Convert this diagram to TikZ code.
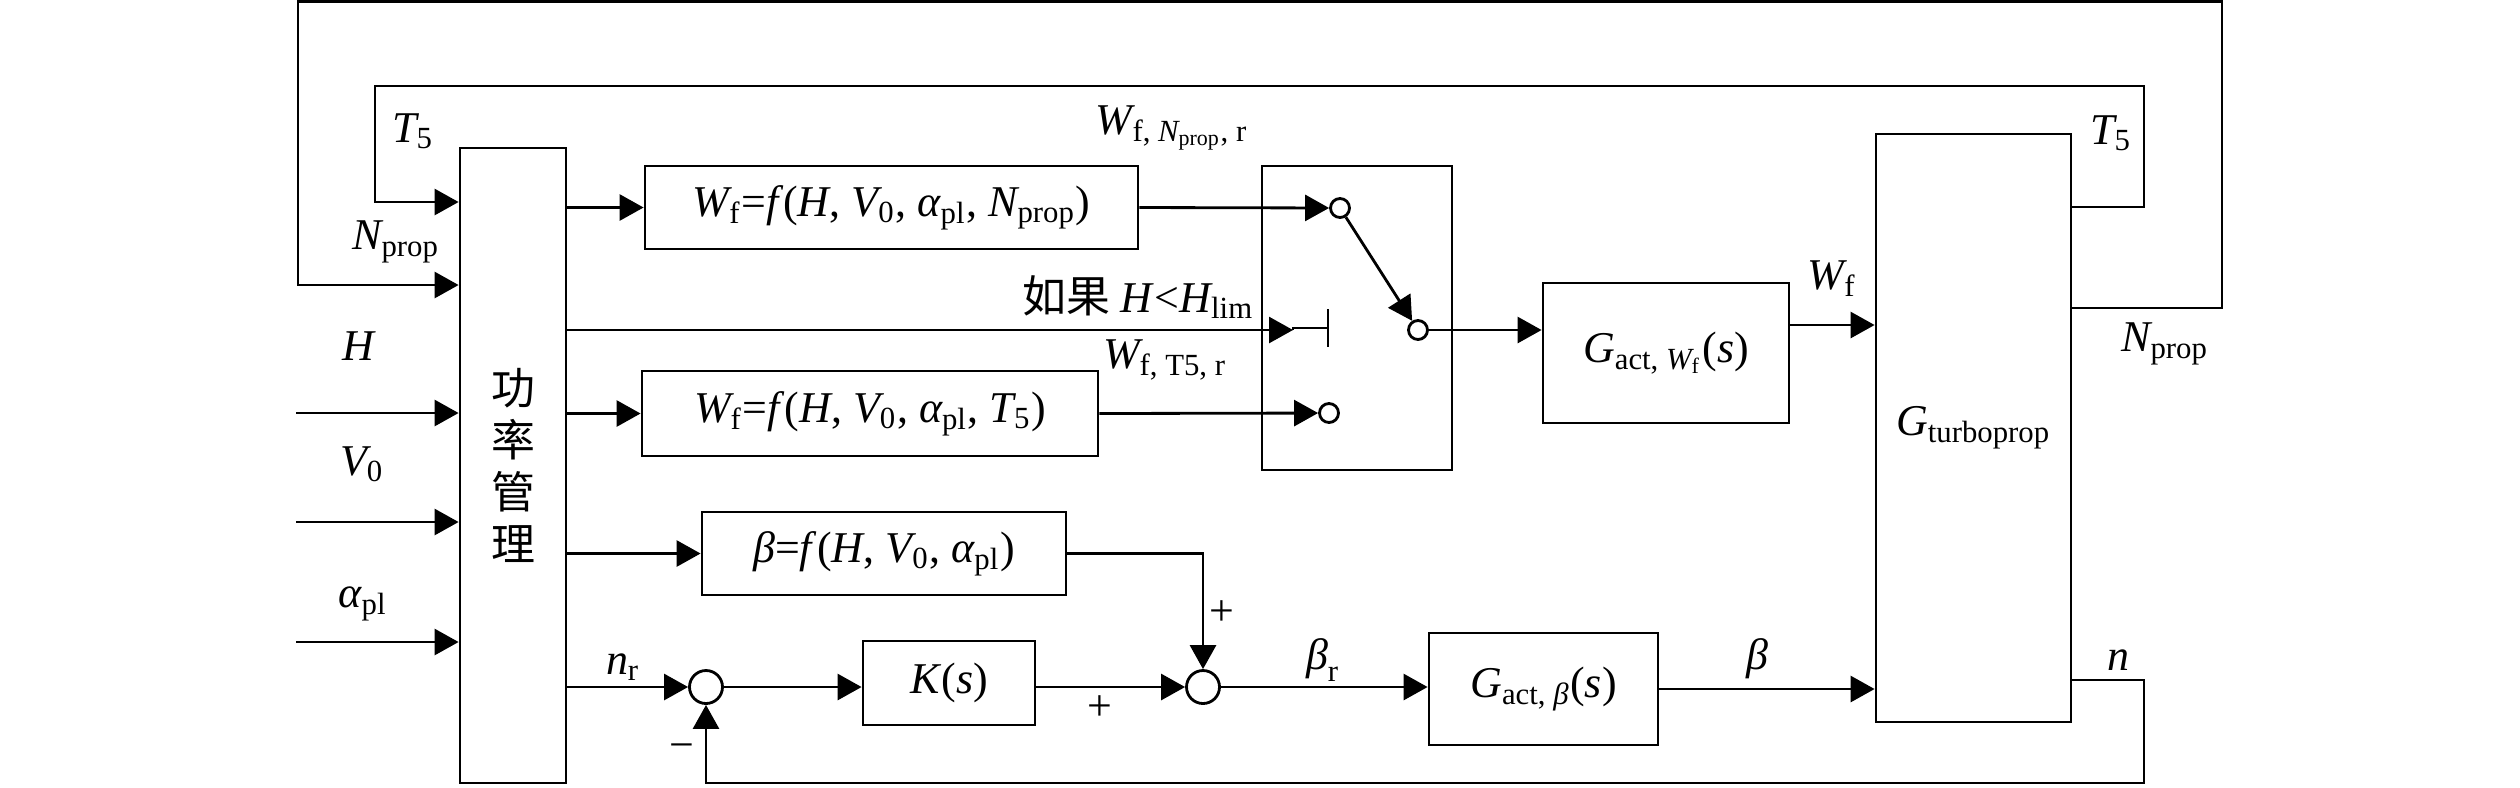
\documentclass[tikz,border=0pt]{standalone}
\usepackage{amsmath}
\usepackage{fontspec}
\setmainfont{Liberation Serif}
\newfontfamily\cjk{Noto Sans CJK SC}
\usetikzlibrary{arrows.meta,positioning,calc}
\newcommand{\sv}[2]{$\textit{#1}_{\text{#2}}$}

\begin{document}
\begin{tikzpicture}[
  font=\fontsize{12.5}{15}\selectfont,
  line width=0.8pt,
  blk/.style={draw,inner sep=0pt},
  sum/.style={draw,circle,minimum size=0.33cm,inner sep=0pt},
  pin/.style={draw,circle,minimum size=0.19cm,inner sep=0pt},
  arr/.style={-{Triangle[length=0.24cm,width=0.26cm]}},
  lbl/.style={inner sep=1pt},
]
  \useasboundingbox (0,0) rectangle (25.2,-7.87);

  % blocks
  \node[blk,minimum width=1.06cm,minimum height=6.35cm,align=center,
    font=\cjk\fontsize{12.5}{14.75}\selectfont] (pm) at (5.13,-4.655) {功\\率\\管\\理};
  \node[blk,minimum width=4.93cm,minimum height=0.83cm] (fnp) at (8.915,-2.075)
    {\sv{W}{f}=\textit{f}(\textit{H}, \sv{V}{0}, \sv{α}{pl}, \sv{N}{prop})};
  \node[blk,minimum width=4.56cm,minimum height=0.85cm] (ft5) at (8.70,-4.135)
    {\sv{W}{f}=\textit{f}(\textit{H}, \sv{V}{0}, \sv{α}{pl}, \sv{T}{5})};
  \node[blk,minimum width=3.64cm,minimum height=0.83cm] (fbeta) at (8.84,-5.535)
    {\textit{β}=\textit{f}(\textit{H}, \sv{V}{0}, \sv{α}{pl})};
  \node[blk,minimum width=1.90cm,minimum height=3.04cm] (sw) at (13.57,-3.18) {};
  \node[blk,minimum width=2.46cm,minimum height=1.40cm] (gwf) at (16.66,-3.53)
    {$\textit{G}_{\text{act, }\textit{W}_{\text{f}}}$(\textit{s})};
  \node[blk,minimum width=1.95cm,minimum height=5.88cm] (gtp) at (19.735,-4.28)
    {\sv{G}{turboprop}};
  \node[blk,minimum width=2.29cm,minimum height=1.12cm] (gbeta) at (15.435,-6.89)
    {$\textit{G}_{\text{act, }\textit{β}}$(\textit{s})};
  \node[blk,minimum width=1.72cm,minimum height=0.84cm] (ks) at (9.49,-6.83)
    {\textit{K}(\textit{s})};
  \node[sum] (s1) at (7.06,-6.87) {};
  \node[sum] (s2) at (12.03,-6.87) {};
  \node[pin] (c1) at (13.40,-2.08) {};
  \node[pin] (c2) at (13.29,-4.13) {};
  \node[pin] (c3) at (14.18,-3.30) {};

  % free ends
  \coordinate (inH) at (2.96,-4.13);
  \coordinate (inV) at (2.96,-5.22);
  \coordinate (inA) at (2.96,-6.42);
  \coordinate (htip) at (12.93,-3.30);
  \coordinate (hbar) at (13.28,-3.28);
  \coordinate (t5r) at (21.44,-0.86);
  \coordinate (t5l) at (3.75,-0.86);
  \coordinate (npr) at (22.22,-0.015);
  \coordinate (npl) at (2.98,-0.015);
  \coordinate (nloop) at (21.44,-7.83);

  % inputs
  \draw[arr] (inH) -- (inH -| pm.west);
  \draw[arr] (inV) -- (inV -| pm.west);
  \draw[arr] (inA) -- (inA -| pm.west);

  % power management outputs
  \draw[arr] (pm.east |- fnp) -- (fnp);
  \draw[arr] (pm.east |- ft5) -- (ft5);
  \draw[arr] (pm.east |- fbeta) -- (fbeta);
  \draw[arr] (pm.east |- s1) -- (s1);
  \draw[arr] (pm.east |- htip) -- (htip);
  \draw (htip) -- (hbar -| htip) -- (hbar);
  \draw ([yshift=0.19cm]hbar) -- ([yshift=-0.19cm]hbar);

  % switch
  \draw[arr] (fnp.east) -- (c1);
  \draw[arr] (ft5.east) -- (c2);
  \draw[arr] (c1) -- (c3);
  \draw[arr] (c3) -- (c3 -| gwf.west);
  \draw[arr] (gwf.east |- 0,-3.25) -- (gtp.west |- 0,-3.25);

  % pitch path
  \draw[arr] (fbeta.east) -| (s2);
  \draw[arr] (s1) -- (s1 -| ks.west);
  \draw[arr] (ks.east |- s2) -- (s2);
  \draw[arr] (s2) -- (s2 -| gbeta.west);
  \draw[arr] (gbeta.east) -- (gbeta.east -| gtp.west);

  % feedback loops
  \draw[arr] (gtp.east |- 0,-2.07) -| (t5r) -- (t5l) |- (pm.west |- 0,-2.02);
  \draw[arr] (gtp.east |- 0,-3.08) -| (npr) -- (npl) |- (pm.west |- 0,-2.85);
  \draw[arr] (gtp.east |- 0,-6.80) -| (nloop) -| (s1);

  % labels
  \node[lbl] (lT5a) at (4.13,-1.31) {\sv{T}{5}};
  \node[lbl] (lNa) at (3.96,-2.42) {\sv{N}{prop}};
  \node[lbl] (lH) at (3.59,-3.46) {\textit{H}};
  \node[lbl] (lV) at (3.62,-4.64) {\sv{V}{0}};
  \node[lbl] (lA) at (3.63,-6.04) {\sv{α}{pl}};
  \node[lbl] (lwn) at (11.72,-1.28) {$\textit{W}_{\text{f, }\textit{N}_{\text{prop}}\text{, r}}$};
  \node[lbl] (lif) at (11.38,-2.97) {{\cjk 如果} \textit{H}<\sv{H}{lim}};
  \node[lbl] (lwt) at (11.65,-3.60) {\sv{W}{f, T5, r}};
  \node[lbl] (lwf) at (18.32,-2.79) {\sv{W}{f}};
  \node[lbl] (lT5b) at (21.11,-1.33) {\sv{T}{5}};
  \node[lbl] (lNb) at (21.65,-3.44) {\sv{N}{prop}};
  \node[lbl] (lnr) at (6.23,-6.67) {\sv{n}{r}};
  \node[lbl] (lp1) at (11.00,-7.08) {+};
  \node[lbl] (lm) at (6.82,-7.52) {−};
  \node[lbl] (lp2) at (12.22,-6.13) {+};
  \node[lbl] (lbr) at (13.23,-6.60) {\sv{β}{r}};
  \node[lbl] (lb) at (17.57,-6.59) {\textit{β}};
  \node[lbl] (ln) at (21.18,-6.60) {\textit{n}};
\end{tikzpicture}
\end{document}
